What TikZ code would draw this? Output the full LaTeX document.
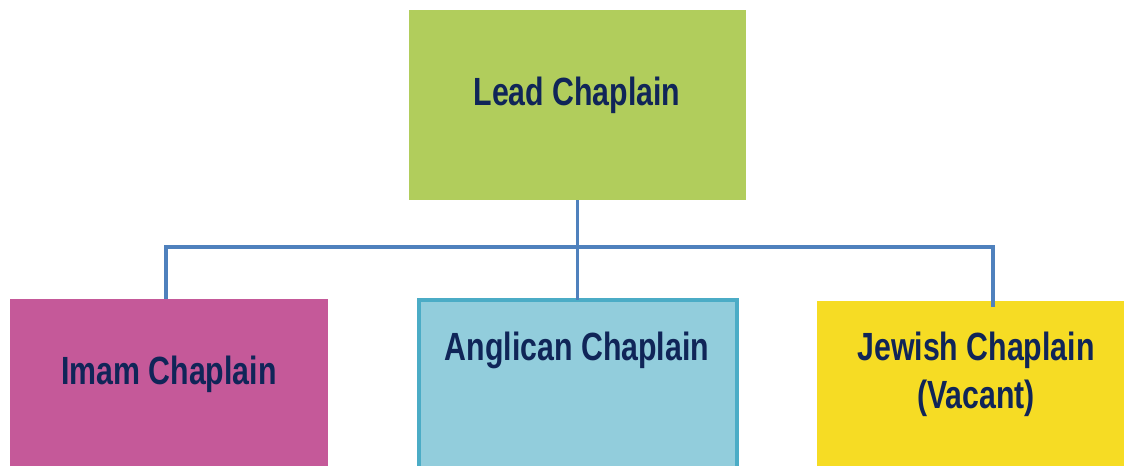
\documentclass[tikz,border=0pt]{standalone}
\usepackage{fontspec}
\newfontfamily\chartfont[FakeStretch=0.77]{Liberation Sans}
\definecolor{leadgreen}{RGB}{177,205,92}
\definecolor{imampink}{RGB}{197,89,153}
\definecolor{angfill}{RGB}{146,205,220}
\definecolor{angedge}{RGB}{75,172,198}
\definecolor{jewyellow}{RGB}{246,220,36}
\definecolor{linkblue}{RGB}{79,129,189}
\definecolor{labelnavy}{RGB}{16,37,88}
\tikzset{
  box/.style={draw=none, inner sep=0pt, outer sep=0pt},
  role/.style={font=\chartfont\bfseries\fontsize{29.5pt}{36pt}\selectfont,
    text=labelnavy, anchor=base, inner sep=0pt, align=center},
  link/.style={draw=linkblue, line width=2.3pt}
}
\begin{document}
\begin{tikzpicture}[x=0.75pt, y=-0.75pt]
  \clip (0,0) rectangle (1124,465);
  \fill[white] (0,0) rectangle (1124,465);

  % boxes
  \node[box, fill=leadgreen, minimum width=337*0.75pt, minimum height=190*0.75pt]
    (lead) at (577.5,105) {};
  \node[box, fill=imampink, minimum width=318*0.75pt, minimum height=180*0.75pt]
    (imam) at (169,389) {};
  \node[box, fill=angfill, draw=angedge, line width=3pt,
    minimum width=318*0.75pt, minimum height=180*0.75pt]
    (angl) at (577.5,390) {};
  \node[box, fill=jewyellow, minimum width=320*0.75pt, minimum height=180*0.75pt]
    (jew) at (977,391) {};

  % labels
  \node[role] (tlead) at (577,105) {Lead Chaplain};
  \node[role] (timam) at (169,384) {Imam Chaplain};
  \node[role] (tangl) at (577,360) {Anglican Chaplain};
  \node[role] (tjew1) at (976,360) {Jewish Chaplain};
  \node[role] (tjew2) at (976,408) {(Vacant)};

  % connectors
  \coordinate (bus) at (577,247);
  \coordinate (imamtap) at (166,299);
  \coordinate (jewtap) at (993,307);
  \draw[link] (lead.south) -- (angl.north);
  \draw[link] (imamtap) |- (bus) -| (jewtap);
\end{tikzpicture}
\end{document}
